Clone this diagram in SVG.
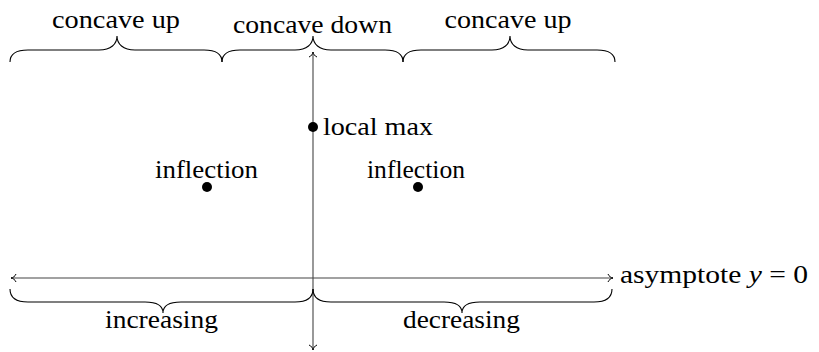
<svg xmlns="http://www.w3.org/2000/svg" width="819" height="352" viewBox="0 0 819 352">
<defs>
<style>
text{font-family:'Liberation Serif','Times New Roman',serif;font-size:26px;fill:#000}
.axis{stroke:#444;stroke-width:1.1;fill:none}
.brace{stroke:#000;stroke-width:1.1;fill:none}
.dot{fill:#000}
</style>
<marker id="arr" viewBox="-6 -5 8 10" markerWidth="8" markerHeight="10" refX="0" refY="0" orient="auto-start-reverse" markerUnits="userSpaceOnUse">
<path d="M-5,-4 C-4,-1.5 -2,-0.5 0,0 C-2,0.5 -4,1.5 -5,4" stroke="#000" stroke-width="1" fill="none"/>
</marker>
</defs>
<rect width="819" height="352" fill="#fff"/>
<g id="connectors">
<line class="axis" x1="313" y1="52" x2="313" y2="350" marker-start="url(#arr)" marker-end="url(#arr)"/>
<line class="axis" x1="11" y1="278" x2="613" y2="278" marker-start="url(#arr)" marker-end="url(#arr)"/>
</g>
<g font-family="Liberation Serif, serif" font-size="26">
<g id="brace-concave-up-left">
<path class="brace" d="M10,62 C10,54 16,50 28,50 H99 C111,50 117,44 117,36 C117,44 123,50 135,50 H204 C216,50 222,54 222,62"/>
<text x="116" y="28" text-anchor="middle" textLength="128" lengthAdjust="spacingAndGlyphs">concave up</text>
</g>
<g id="brace-concave-down">
<path class="brace" d="M222,62 C222,54 228,50 240,50 H295 C307,50 313,44 313,36 C313,44 319,50 331,50 H385 C397,50 403,54 403,62"/>
<text x="312.5" y="33" text-anchor="middle" textLength="159" lengthAdjust="spacingAndGlyphs">concave down</text>
</g>
<g id="brace-concave-up-right">
<path class="brace" d="M403,62 C403,54 409,50 421,50 H492 C504,50 510,44 510,36 C510,44 516,50 528,50 H597 C609,50 615,54 615,62"/>
<text x="508" y="28" text-anchor="middle" textLength="127" lengthAdjust="spacingAndGlyphs">concave up</text>
</g>
<g id="local-max">
<circle class="dot" cx="313" cy="127" r="5"/>
<text x="323" y="135" textLength="110" lengthAdjust="spacingAndGlyphs">local max</text>
</g>
<g id="inflection-left">
<circle class="dot" cx="207" cy="187" r="5"/>
<text x="206.5" y="178" text-anchor="middle" textLength="103" lengthAdjust="spacingAndGlyphs">inflection</text>
</g>
<g id="inflection-right">
<circle class="dot" cx="418" cy="187" r="5"/>
<text x="416" y="178" text-anchor="middle" textLength="98" lengthAdjust="spacingAndGlyphs">inflection</text>
</g>
<g id="asymptote">
<text x="620" y="283" textLength="188" lengthAdjust="spacingAndGlyphs">asymptote <tspan font-style="italic">y</tspan> = 0</text>
</g>
<g id="brace-increasing">
<path class="brace" d="M10,289 C10,297 16,302 28,302 H145 C157,302 163,306 163,313 C163,306 169,302 181,302 H295 C307,302 313,297 313,289"/>
<text x="161.5" y="328" text-anchor="middle" textLength="113" lengthAdjust="spacingAndGlyphs">increasing</text>
</g>
<g id="brace-decreasing">
<path class="brace" d="M313,289 C313,297 319,302 331,302 H444 C456,302 462,306 462,313 C462,306 468,302 480,302 H594 C606,302 612,297 612,289"/>
<text x="461.5" y="328" text-anchor="middle" textLength="117" lengthAdjust="spacingAndGlyphs">decreasing</text>
</g>
</g>
</svg>
